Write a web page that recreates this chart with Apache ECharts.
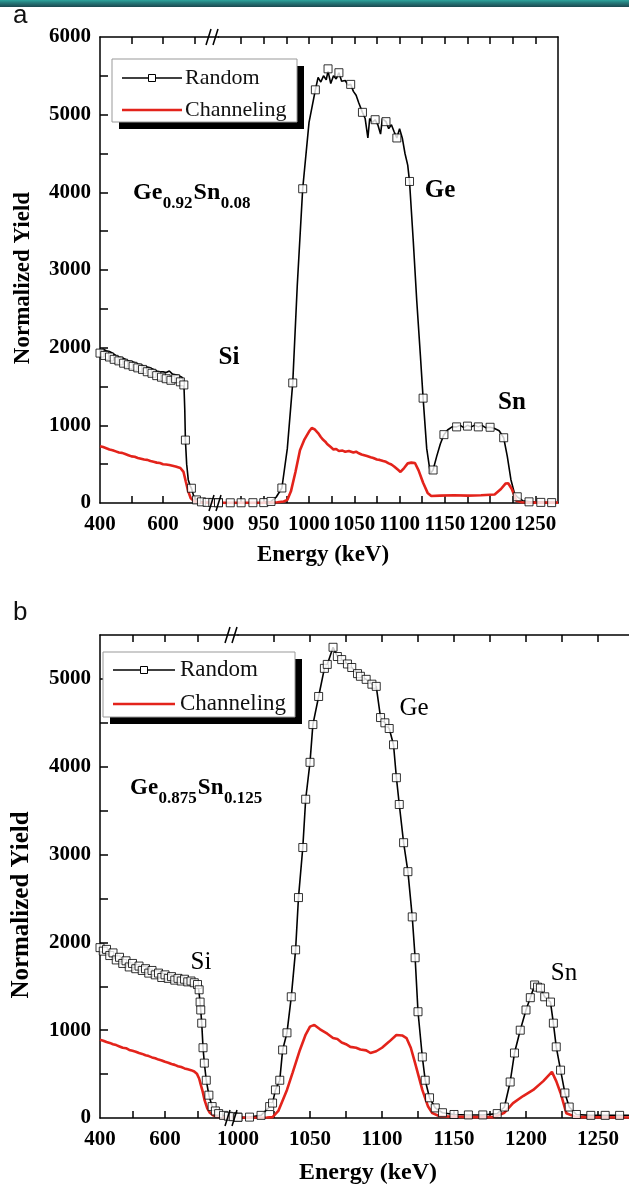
<!DOCTYPE html>
<html><head><meta charset="utf-8">
<script src="https://cdn.jsdelivr.net/npm/echarts@6/dist/echarts.min.js"></script>
<style>html,body{margin:0;padding:0;background:#fff}#c{width:629px;height:1185px}</style>
</head><body><div id="c"></div>
<script>
// ---------------- Panel a (Ge0.92Sn0.08) ----------------
const aRandomLineLeft = [[400,1960],[410,1980],[420,1960],[430,1950],[440,1930],[450,1900],[460,1880],[470,1870],[480,1850],[490,1830],[500,1820],[510,1810],[520,1790],[530,1780],[540,1760],[550,1750],[560,1740],[570,1720],[580,1700],[590,1690],[600,1690],[610,1680],[620,1700],[630,1660],[640,1650],[650,1640],[660,1620],[666,1560],[669,1200],[671,810],[675,500],[680,300],[686,220],[690,190],[698,80],[710,30],[730,10],[776,5]];
const aRandomMarksLeft = [[400,1930],[415,1900],[430,1880],[445,1850],[460,1830],[475,1800],[490,1780],[505,1760],[520,1740],[535,1720],[550,1690],[565,1670],[580,1640],[595,1620],[610,1600],[625,1580],[640,1600],[655,1560],[666,1520],[671,810],[690,190],[706,40],[722,15],[740,8],[758,5],[776,5]];
const aChannelLeft = [[400,730],[410,720],[420,705],[430,690],[440,680],[450,665],[460,650],[470,645],[480,630],[490,615],[500,600],[510,595],[520,580],[530,570],[540,560],[550,555],[560,540],[570,530],[580,520],[590,515],[600,500],[610,495],[620,490],[630,480],[640,470],[655,450],[665,400],[672,280],[680,150],[688,60],[700,20],[720,8],[750,5],[776,5]];
const aRandomLineRight = [[900,3],[930,3],[950,5],[958,20],[964,80],[970,193],[976,700],[982,1546],[987,2800],[993,4046],[1000,4900],[1007,5320],[1010,5480],[1013,5420],[1016,5500],[1019,5450],[1021,5560],[1024,5400],[1027,5500],[1030,5460],[1033,5540],[1036,5430],[1040,5440],[1043,5380],[1046,5390],[1049,5300],[1052,5250],[1055,5150],[1059,5030],[1062,4950],[1065,4700],[1067,4950],[1070,4900],[1073,4935],[1076,4870],[1079,4750],[1081,4950],[1085,4910],[1088,4820],[1091,4870],[1094,4780],[1097,4700],[1100,4820],[1103,4700],[1106,4500],[1109,4350],[1111,4140],[1115,3400],[1119,2600],[1123,1900],[1126,1350],[1130,700],[1134,380],[1137,425],[1141,600],[1145,760],[1149,880],[1153,940],[1158,980],[1163,980],[1167,1000],[1171,970],[1175,1000],[1179,980],[1183,1000],[1187,980],[1191,1000],[1195,970],[1200,975],[1205,960],[1210,930],[1215,840],[1219,600],[1223,300],[1227,120],[1230,80],[1236,30],[1245,15],[1260,8],[1275,5]];
const aRandomMarksRight = [[900,3],[913,3],[925,3],[938,4],[950,5],[958,20],[970,193],[982,1546],[993,4046],[1007,5320],[1021,5590],[1033,5540],[1046,5390],[1059,5030],[1073,4935],[1085,4910],[1097,4700],[1111,4140],[1126,1350],[1137,425],[1149,880],[1163,980],[1175,990],[1187,980],[1200,975],[1215,840],[1230,80],[1243,15],[1256,8],[1268,5]];
const aChannelRight = [[900,2],[930,3],[950,5],[965,10],[972,20],[976,40],[980,150],[985,400],[990,680],[995,820],[1000,920],[1003,965],[1006,950],[1010,900],[1013,850],[1015,820],[1018,790],[1020,760],[1024,720],[1027,690],[1030,695],[1033,670],[1037,675],[1040,660],[1044,670],[1049,650],[1052,660],[1055,640],[1058,625],[1060,610],[1064,605],[1068,590],[1071,580],[1075,560],[1078,555],[1082,540],[1085,530],[1088,510],[1091,495],[1094,470],[1098,430],[1101,400],[1105,450],[1109,510],[1113,520],[1117,515],[1121,420],[1126,260],[1131,130],[1135,90],[1145,95],[1160,100],[1175,95],[1190,100],[1205,110],[1212,180],[1217,250],[1220,255],[1224,180],[1229,30],[1235,10],[1250,5],[1275,5]];

// ---------------- Panel b (Ge0.875Sn0.125) ----------------
const bRandomLineLeft = [[400,1900],[420,1870],[440,1830],[460,1800],[480,1760],[500,1740],[520,1710],[540,1680],[560,1660],[580,1630],[600,1610],[620,1590],[640,1570],[660,1560],[680,1540],[695,1520],[703,1480],[708,1320],[713,1080],[717,800],[721,625],[727,430],[735,260],[745,130],[755,80],[770,40],[790,20],[824,10]];
const bRandomMarksLeft = [[400,1940],[410,1900],[420,1920],[430,1850],[440,1880],[450,1800],[460,1830],[470,1760],[480,1790],[490,1720],[500,1760],[510,1700],[520,1730],[530,1680],[540,1700],[550,1650],[560,1680],[570,1630],[580,1650],[590,1600],[600,1630],[610,1590],[620,1610],[630,1570],[640,1590],[650,1560],[660,1580],[670,1550],[680,1560],[690,1540],[700,1520],[705,1460],[708,1320],[710,1230],[713,1080],[717,800],[721,625],[727,430],[735,260],[745,130],[755,80],[765,50],[780,30],[795,20],[810,15],[824,10]];
const bChannelLeft = [[400,890],[410,880],[420,865],[430,855],[440,840],[450,830],[460,815],[470,800],[480,795],[490,775],[500,765],[510,755],[520,740],[530,730],[540,715],[550,705],[560,690],[570,680],[580,665],[590,655],[600,640],[610,630],[620,615],[630,605],[640,590],[650,580],[660,565],[670,555],[680,545],[690,530],[698,505],[705,450],[710,380],[716,300],[722,200],[730,110],[738,60],[750,25],[770,10],[800,5],[824,5]];
const bRandomRight = [[1000,8],[1008,10],[1016,30],[1022,130],[1024,170],[1026,320],[1029,430],[1031,775],[1034,970],[1037,1380],[1040,1915],[1042,2510],[1045,3080],[1047,3630],[1050,4050],[1052,4480],[1056,4800],[1060,5120],[1062,5165],[1066,5360],[1069,5255],[1072,5220],[1076,5170],[1079,5130],[1083,5060],[1085,5030],[1089,4995],[1093,4940],[1096,4915],[1099,4560],[1102,4500],[1105,4435],[1108,4250],[1110,3875],[1112,3570],[1115,3135],[1118,2805],[1121,2290],[1123,1825],[1125,1210],[1128,695],[1130,430],[1133,230],[1137,115],[1142,60],[1150,40],[1160,35],[1170,35],[1180,50],[1185,125],[1189,410],[1192,740],[1196,1000],[1200,1230],[1203,1370],[1206,1515],[1208,1490],[1210,1480],[1213,1380],[1217,1320],[1219,1080],[1221,810],[1224,545],[1227,285],[1230,125],[1235,40],[1245,30],[1255,30],[1265,30],[1275,30]];
const bChannelRight = [[1000,3],[1020,5],[1024,10],[1028,80],[1034,320],[1038,520],[1043,775],[1047,950],[1050,1040],[1053,1060],[1057,1010],[1062,960],[1066,910],[1069,900],[1072,860],[1075,840],[1078,810],[1082,800],[1085,780],[1089,770],[1092,740],[1096,760],[1100,800],[1105,870],[1110,945],[1114,940],[1117,910],[1120,800],[1123,625],[1128,320],[1132,130],[1135,55],[1140,20],[1160,10],[1178,10],[1185,60],[1191,170],[1198,250],[1205,320],[1212,420],[1218,525],[1221,420],[1224,285],[1228,55],[1235,10],[1275,5]];

// ---------------- ticks / labels ----------------
const aLeftTicks = [500,600,700];
const aLeftLabels = [400,600];
const aRightTicks = [925,950,975,1000,1025,1050,1075,1100,1125,1150,1175,1200,1225,1250];
const aRightLabels = [900,950,1000,1050,1100,1150,1200,1250];
const aYTicks = [500,1000,1500,2000,2500,3000,3500,4000,4500,5000,5500];
const aYLabels = [0,1000,2000,3000,4000,5000,6000];
const bLeftTicks = [500,600,700];
const bLeftLabels = [400,600];
const bRightTicks = [1025,1050,1075,1100,1125,1150,1175,1200,1225,1250];
const bRightLabels = [1000,1050,1100,1150,1200,1250];
const bYTicks = [500,1000,1500,2000,2500,3000,3500,4000,4500,5000];
const bYLabels = [0,1000,2000,3000,4000,5000];

const SERIF = "'Liberation Serif','Times New Roman',serif";
const RED = '#e3231b';
const plain = function (v) { return String(v); };

function xAx(grid, min, max, ticks, labels, pos) {
  return {type:'value', gridIndex:grid, position:pos, min:min, max:max,
    axisLine:{show:true, onZero:false, lineStyle:{color:'#000', width:1.5}},
    axisTick:{show:true, inside:true, length:7, customValues:ticks, lineStyle:{color:'#000', width:1.5}},
    axisLabel:{show:pos==='bottom', customValues:labels, formatter:plain, margin:11, color:'#000', fontFamily:SERIF, fontWeight:'bold', fontSize:21},
    splitLine:{show:false}};
}
function yAx(grid, max, ticks, labels, pos) {
  const isLeft = pos === 'left';
  return {type:'value', gridIndex:grid, position:pos, min:0, max:max,
    axisLine:{show:true, onZero:false, lineStyle:{color:'#000', width:1.5}},
    axisTick:{show:isLeft, inside:true, length:8, customValues:ticks, lineStyle:{color:'#000', width:1.5}},
    axisLabel:{show:isLeft, customValues:labels, formatter:plain, margin:9, color:'#000', fontFamily:SERIF, fontWeight:'bold', fontSize:21},
    splitLine:{show:false}};
}
function lineS(xi, yi, data, color, width) {
  return {type:'line', xAxisIndex:xi, yAxisIndex:yi, data:data, showSymbol:false, symbol:'none',
    lineStyle:{color:color, width:width}, itemStyle:{color:color}, silent:true, animation:false, z:2};
}
function marks(xi, yi, data) {
  return {type:'scatter', xAxisIndex:xi, yAxisIndex:yi, data:data, symbol:'rect', symbolSize:8,
    itemStyle:{color:'#fff', borderColor:'#000', borderWidth:1}, silent:true, animation:false, z:4};
}

const grids = [
  {left:100, top:37, width:118.5, height:466, outerBoundsMode:'none', containLabel:false},
  {left:218.5, top:37, width:339.5, height:466, outerBoundsMode:'none', containLabel:false},
  {left:100, top:635, width:138, height:483, outerBoundsMode:'none', containLabel:false},
  {left:238, top:635, width:396, height:483, outerBoundsMode:'none', containLabel:false}
];
const xAxes = [
  xAx(0, 400, 776, aLeftTicks, aLeftLabels, 'bottom'),
  xAx(0, 400, 776, aLeftTicks, aLeftLabels, 'top'),
  xAx(1, 900, 1275, aRightTicks, aRightLabels, 'bottom'),
  xAx(1, 900, 1275, aRightTicks, aRightLabels, 'top'),
  xAx(2, 400, 824.6, bLeftTicks, bLeftLabels, 'bottom'),
  xAx(2, 400, 824.6, bLeftTicks, bLeftLabels, 'top'),
  xAx(3, 1000, 1275, bRightTicks, bRightLabels, 'bottom'),
  xAx(3, 1000, 1275, bRightTicks, bRightLabels, 'top')
];
const yAxes = [
  yAx(0, 6000, aYTicks, aYLabels, 'left'),
  yAx(1, 6000, aYTicks, aYLabels, 'right'),
  yAx(2, 5500, bYTicks, bYLabels, 'left'),
  yAx(3, 5500, bYTicks, bYLabels, 'right')
];
const series = [
  lineS(0,0,aRandomLineLeft,'#000',1.6), lineS(0,0,aChannelLeft,RED,2.6), marks(0,0,aRandomMarksLeft),
  lineS(2,1,aRandomLineRight,'#000',1.6), lineS(2,1,aChannelRight,RED,2.6), marks(2,1,aRandomMarksRight),
  lineS(4,2,bRandomLineLeft,'#000',1.6), lineS(4,2,bChannelLeft,RED,2.6), marks(4,2,bRandomMarksLeft),
  lineS(6,3,bRandomRight,'#000',1.6), lineS(6,3,bChannelRight,RED,2.6), marks(6,3,bRandomRight)
];

function txt(x, y, text, size, weight, extra) {
  return Object.assign({type:'text', x:x, y:y, z:10, silent:true,
    style:{text:text, fill:'#000', font:(weight||'normal')+' '+size+'px '+SERIF, align:'center', verticalAlign:'middle'}}, extra||{});
}
function brk(cx, cy) {
  return [
    {type:'line', z:10, silent:true, shape:{x1:cx-6, y1:cy+8, x2:cx-1, y2:cy-8}, style:{stroke:'#000', lineWidth:1.5}},
    {type:'line', z:10, silent:true, shape:{x1:cx+1, y1:cy+8, x2:cx+6, y2:cy-8}, style:{stroke:'#000', lineWidth:1.5}}
  ];
}
function legend(x, y, w, h, lineX1, lineX2, y1, y2, textX, fs) {
  const mx = (lineX1+lineX2)/2;
  return [
    {type:'rect', z:20, silent:true, shape:{x:x+7, y:y+7, width:w, height:h}, style:{fill:'#000'}},
    {type:'rect', z:21, silent:true, shape:{x:x, y:y, width:w, height:h}, style:{fill:'#fff', stroke:'#999', lineWidth:1}},
    {type:'line', z:22, silent:true, shape:{x1:lineX1, y1:y1, x2:lineX2, y2:y1}, style:{stroke:'#000', lineWidth:1.6}},
    {type:'rect', z:23, silent:true, shape:{x:mx-3.5, y:y1-3.5, width:7, height:7}, style:{fill:'#fff', stroke:'#000', lineWidth:1}},
    {type:'line', z:22, silent:true, shape:{x1:lineX1, y1:y2, x2:lineX2, y2:y2}, style:{stroke:RED, lineWidth:2.6}},
    {type:'text', z:23, silent:true, x:textX, y:y1, style:{text:'Random', fill:'#111', font:fs+'px '+SERIF, align:'left', verticalAlign:'middle'}},
    {type:'text', z:23, silent:true, x:textX, y:y2, style:{text:'Channeling', fill:'#111', font:fs+'px '+SERIF, align:'left', verticalAlign:'middle'}}
  ];
}
const measureCtx = document.createElement('canvas').getContext('2d');
function formula(x, yMain, parts, main, sub, dy) {
  const out = [];
  let cx = x;
  parts.forEach(function (p, i) {
    const isSub = i % 2 === 1;
    const font = 'bold ' + (isSub ? sub : main) + 'px ' + SERIF;
    out.push({type:'text', x:cx, y:isSub ? yMain + dy : yMain, z:10, silent:true,
      style:{text:p, fill:'#000', font:font, align:'left', verticalAlign:'middle'}});
    measureCtx.font = font;
    cx += measureCtx.measureText(p).width + (isSub ? 1 : 0.5);
  });
  return out;
}

const graphics = [].concat(
  [{type:'rect', z:30, silent:true, shape:{x:0, y:0, width:629, height:7},
    style:{fill:new echarts.graphic.LinearGradient(0,0,0,1,[{offset:0,color:'#2ea59e'},{offset:0.35,color:'#26807f'},{offset:1,color:'#1c4850'}])}}],
  [{type:'text', x:13, y:16, z:10, silent:true, style:{text:'a', fill:'#111', font:"26px 'Liberation Sans',Arial,sans-serif", align:'left', verticalAlign:'middle'}},
   {type:'text', x:13, y:613, z:10, silent:true, style:{text:'b', fill:'#111', font:"26px 'Liberation Sans',Arial,sans-serif", align:'left', verticalAlign:'middle'}}],
  [txt(23, 278, 'Normalized Yield', 23, 'bold', {rotation:Math.PI/2}),
   txt(323, 555, 'Energy (keV)', 23, 'bold'),
   txt(22, 905, 'Normalized Yield', 25, 'bold', {rotation:Math.PI/2}),
   txt(368, 1173, 'Energy (keV)', 24, 'bold'),
   txt(229, 358, 'Si', 25, 'bold'),
   txt(440, 191, 'Ge', 25, 'bold'),
   txt(512, 403, 'Sn', 25, 'bold'),
   txt(201, 962, 'Si', 25, 'normal'),
   txt(414, 708, 'Ge', 25, 'normal'),
   txt(564, 973, 'Sn', 25, 'normal')],
  formula(133, 193, ['Ge','0.92','Sn','0.08'], 24, 17, 11),
  formula(130, 788, ['Ge','0.875','Sn','0.125'], 23, 17, 11),
  brk(212, 37), brk(215, 503), brk(231, 635), brk(231, 1118),
  legend(112, 59, 185, 63, 122, 182, 78, 110, 185, 22),
  legend(103, 652, 192, 65, 113, 175, 670, 704, 180, 23)
);

const chart = echarts.init(document.getElementById('c'), null, {renderer:'canvas'});
chart.setOption({
  animation:false, backgroundColor:'#fff',
  grid:grids, xAxis:xAxes, yAxis:yAxes, series:series, graphic:graphics
});
</script></body></html>
